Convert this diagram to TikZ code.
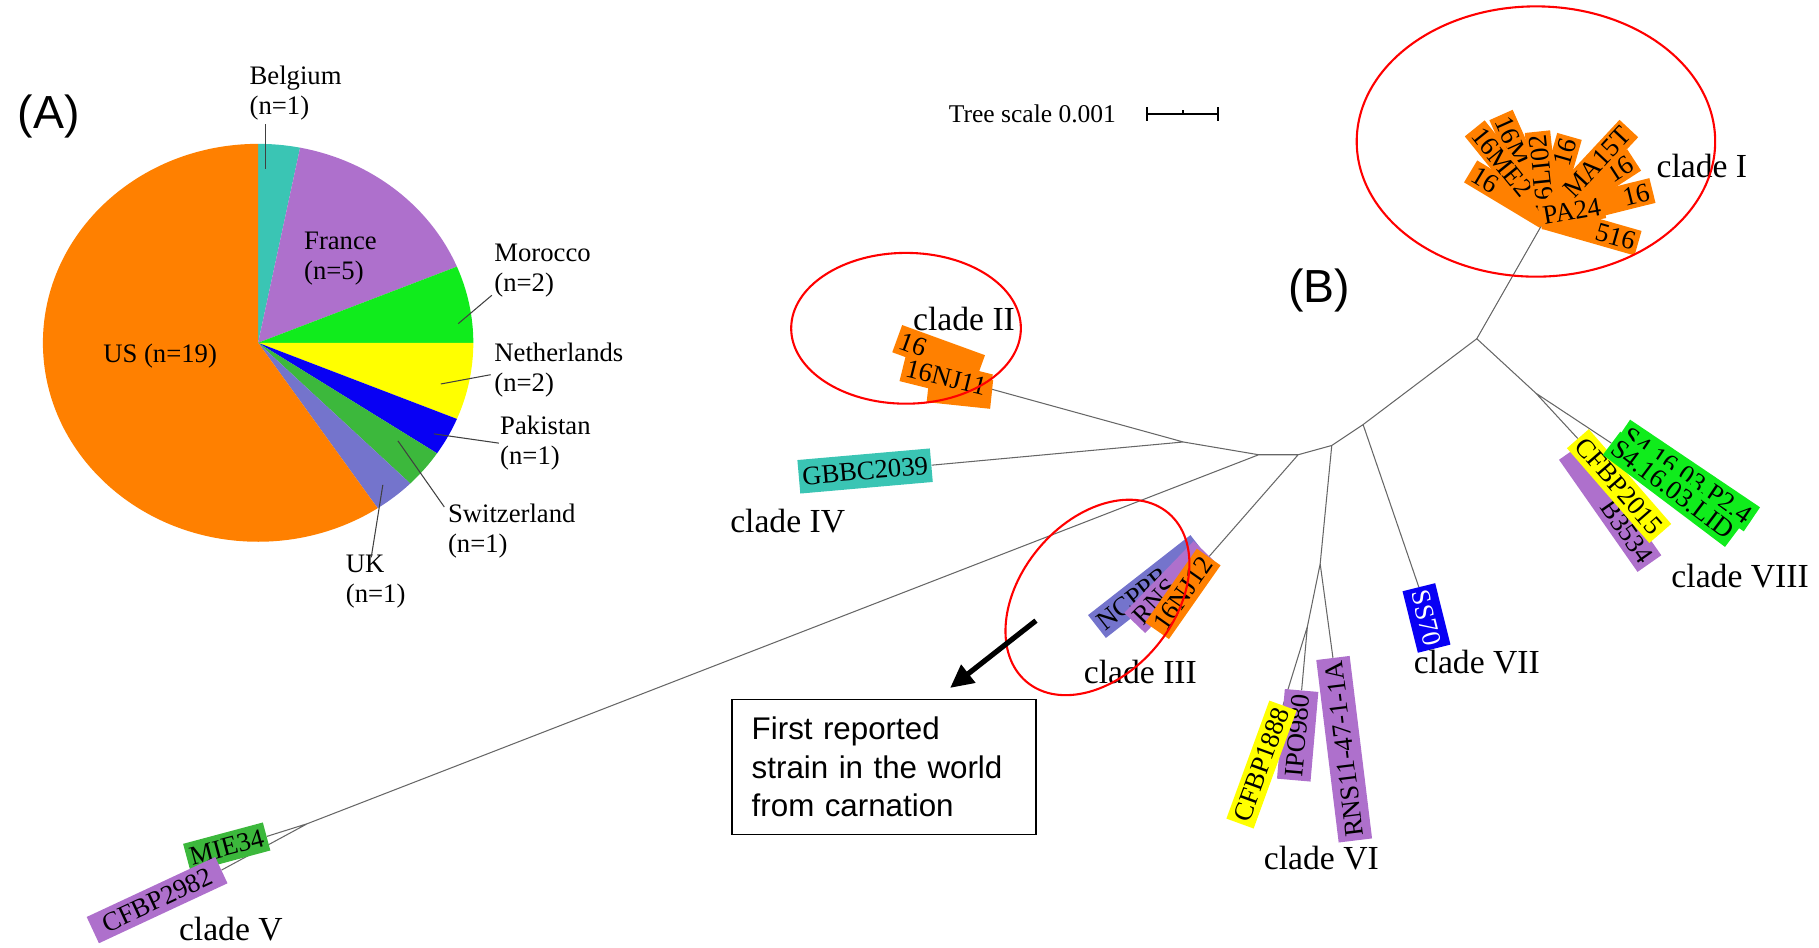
\documentclass[tikz,border=0pt]{standalone}
\usepackage{fontspec}
\setmainfont{Liberation Serif}
\newfontfamily\arialfont{Liberation Sans}
\usetikzlibrary{arrows.meta}

\definecolor{usorange}{RGB}{255,128,0}
\definecolor{belteal}{RGB}{58,197,180}
\definecolor{frpurple}{RGB}{174,112,204}
\definecolor{magreen}{RGB}{16,236,28}
\definecolor{nlyellow}{RGB}{255,255,0}
\definecolor{pkblue}{RGB}{8,0,244}
\definecolor{chgreen}{RGB}{60,184,60}
\definecolor{ukslate}{RGB}{116,116,204}

\tikzset{
  branch/.style={draw=black!60, line width=0.9pt},
  leaf/.style={fill=#1, font=\fontsize{23}{26}\selectfont, inner xsep=3pt,
    inner ysep=4pt, text height=16pt, text depth=1pt},
  tipleaf/.style={leaf=usorange, inner ysep=2.5pt}, % crowded clade I labels
  clade/.style={font=\fontsize{29}{32}\selectfont},
  country/.style={font=\fontsize{23}{26}\selectfont, align=left, anchor=west, inner xsep=0pt},
  leader/.style={draw=black!75, line width=0.9pt},
  ring/.style={draw=red, line width=1.8pt}
}

\begin{document}
\begin{tikzpicture}[x=1pt, y=1pt]
  \useasboundingbox (0,0) rectangle (1568,817);

  % ---- (A) isolates per country ----
  \node[font=\arialfont\fontsize{40}{44}\selectfont] (pa) at (42,717) {(A)};
  \coordinate (pie) at (222.5,521.5);
  \foreach \from/\to/\col in {78.75/90/belteal, 22.5/78.75/frpurple, 0/22.5/magreen,
      -22.5/0/nlyellow, -33.75/-22.5/pkblue, -45/-33.75/chgreen,
      -56.25/-45/ukslate, -270/-56.25/usorange}
    \fill[\col] (pie) -- ++(\from:185.5 and 171.5)
      arc[start angle=\from, end angle=\to, x radius=185.5, y radius=171.5] -- cycle;

  \node[country] (bel) at (215,737) {Belgium\\(n=1)};
  \node[country] (fra) at (262,594) {France\\(n=5)};
  \node[country] (mor) at (426,584) {Morocco\\(n=2)};
  \node[country] (net) at (426,498) {Netherlands\\(n=2)};
  \node[country] (pak) at (431,435) {Pakistan\\(n=1)};
  \node[country] (swi) at (386,359) {Switzerland\\(n=1)};
  \node[country] (uk) at (298,316) {UK\\(n=1)};
  \node[font=\fontsize{23}{26}\selectfont] (us) at (138,510) {US (n=19)};

  \coordinate (belin) at (229,671);
  \coordinate (morin) at (395,538);
  \coordinate (netin) at (380,486);
  \coordinate (pakin) at (374,443);
  \coordinate (swiin) at (343,437);
  \coordinate (ukin) at (330,399);
  \draw[leader] ([xshift=14pt]bel.south west) -- (belin);
  \draw[leader] ([xshift=-2pt,yshift=5pt]mor.south west) -- (morin);
  \draw[leader] ([xshift=-3pt,yshift=-4pt]net.west) -- (netin);
  \draw[leader] ([xshift=-1pt]pak.west) -- (pakin);
  \draw[leader] ([xshift=-3pt,yshift=-6pt]swi.north west) -- (swiin);
  \draw[leader] ([xshift=22pt,yshift=-6pt]uk.north west) -- (ukin);

  % ---- (B) unrooted tree ----
  \node[font=\arialfont\fontsize{40}{44}\selectfont] (pb) at (1137,567) {(B)};
  \node[font=\fontsize{22}{24}\selectfont] (scl) at (890,719) {Tree scale 0.001};
  \coordinate (sb1) at (989,719);
  \coordinate (sb2) at (1050,719);
  \coordinate (sbm) at (1019.5,719);
  \draw[line width=1.5pt] (sb1) -- (sb2) (sb1) ++(0,-6) -- ++(0,12)
    (sb2) ++(0,-6) -- ++(0,12) (sbm) -- ++(0,3);

  % inner nodes
  \coordinate (nA) at (1273,525);
  \coordinate (nB) at (1175,451);
  \coordinate (nC) at (1148,433);
  \coordinate (nD) at (1119,425);
  \coordinate (nE) at (1085,425);
  \coordinate (nF) at (1020,436);
  \coordinate (nG) at (265,107);
  \coordinate (nH) at (1138,331);
  \coordinate (nI) at (1127,277);
  \coordinate (nJ) at (1324,478);
  % tips
  \coordinate (t1) at (1333,630);
  \coordinate (t2) at (853,482);
  \coordinate (t2a) at (845,499);
  \coordinate (t2b) at (855,477);
  \coordinate (t3) at (1042,337);
  \coordinate (t3a) at (1034,346);
  \coordinate (t3b) at (1038,342);
  \coordinate (t4) at (803,416);
  \coordinate (t5a) at (230,96);
  \coordinate (t5b) at (191,67);
  \coordinate (t6a) at (1106,209);
  \coordinate (t6b) at (1122,222);
  \coordinate (t6c) at (1149,250);
  \coordinate (t7) at (1223,311);
  \coordinate (t8a) at (1360,439);
  \coordinate (t8b) at (1389,435);
  \coordinate (t8c) at (1354,428);
  \coordinate (t8d) at (1398,445);

  \draw[branch] (nA) -- (t1) (nA) -- (nJ) -- (t8a) (nJ) -- (t8b)
    (nA) -- (nB) -- (t7) (nB) -- (nC) -- (nH) -- (t6c) (nH) -- (nI) -- (t6b)
    (nI) -- (t6a) (nC) -- (nD) -- (t3) (nD) -- (nE) -- (nF) -- (t2)
    (nF) -- (t4) (nE) -- (nG) -- (t5a) (nG) -- (t5b);

  % clade I
  \foreach \ang/\boxw/\txt [count=\k] in {149/70/16, 114/90/16M, 129/92/16ME2}
    \node[tipleaf, anchor=east, rotate=\ang-180, text width=\boxw pt, align=left]
      (cIa\k) at (t1) {\txt};
  \foreach \ang/\boxw/\txt [count=\k] in {74/66/16, 33/84/16, 14/88/16, -16/76/516}
    \node[tipleaf, anchor=west, rotate=\ang, text width=\boxw pt, align=right]
      (cIb\k) at (t1) {\txt};
  \node[tipleaf, anchor=west, rotate=96] (li) at (t1) {16LI02};
  \node[tipleaf, anchor=west, rotate=47, text width=98pt, align=right] (ma) at (t1) {MA15T};
  \node[tipleaf, anchor=west, rotate=10] (pa24) at ([xshift=-6pt]t1) {PA24};
  \node[clade] (cl1) at (1467,674) {clade I};

  % clade II
  \node[leaf=usorange, anchor=east, rotate=-20, text width=70pt, align=left] (nj0) at (t2a) {16};
  \node[leaf=usorange, anchor=east, rotate=-6, minimum width=55pt] (nj1) at (t2b) {};
  \node[leaf=usorange, anchor=east, rotate=-14] (nj11) at (t2) {16NJ11};
  \node[clade] (cl2) at (831,542) {clade II};

  % clade III
  \node[leaf=ukslate, anchor=east, rotate=38, text width=106pt, align=left] (ncp) at (t3a) {NCPPB};
  \node[leaf=frpurple, anchor=east, rotate=46, text width=80pt, align=left] (rns) at (t3b) {RNS};
  \node[leaf=usorange, anchor=east, rotate=55] (nj12) at (t3) {16NJ12};
  \node[clade] (cl3) at (983,238) {clade III};

  % clade IV
  \node[leaf=belteal, anchor=east, rotate=5, inner ysep=6pt] (gbbc) at (t4) {GBBC2039};
  \node[clade] (cl4) at (679,368) {clade IV};

  % clade V
  \node[leaf=chgreen, anchor=east, rotate=15] (mie) at (t5a) {MIE34};
  \node[leaf=frpurple, anchor=east, rotate=25, inner xsep=10pt] (cf2982) at (t5b) {CFBP2982};
  \node[clade] (cl5) at (199,16) {clade V};

  % clade VI
  \node[leaf=frpurple, anchor=east, rotate=85, inner ysep=6pt] (ipo) at (t6b) {IPO980};
  \node[leaf=frpurple, anchor=east, rotate=97, inner ysep=6pt] (rns11) at (t6c) {RNS11-47-1-1A};
  \node[leaf=nlyellow, anchor=east, rotate=70] (cf1888) at (t6a) {CFBP1888};
  \node[clade] (cl6) at (1139,77) {clade VI};

  % clade VII
  \node[leaf=pkblue, text=white, anchor=west, rotate=-76, inner ysep=6pt] (ss) at (t7) {SS70};
  \node[clade] (cl7) at (1273,246) {clade VII};

  % clade VIII
  \node[leaf=frpurple, anchor=west, rotate=-55, text width=112pt, align=right] (b35) at (t8c) {B3534};
  \node[leaf=nlyellow, anchor=west, rotate=-49] (cf2015) at (t8a) {CFBP2015};
  \node[leaf=magreen, anchor=west, rotate=-34] (p24) at (t8d) {S4.16.03.P2.4};
  \node[leaf=magreen, anchor=west, rotate=-37] (lid) at (t8b) {S4.16.03.LID};
  \node[clade] (cl8) at (1500,320) {clade VIII};

  % highlighted clades
  \draw[ring] (1324,695) ellipse[x radius=154.5, y radius=116.5];
  \draw[ring] (781,534) ellipse[x radius=99, y radius=65];
  \draw[ring, rotate around={50:(946,302)}] (946,302) ellipse[x radius=95, y radius=66];

  % note on the carnation strain
  \node[draw, line width=1pt, font=\arialfont\fontsize{27}{33}\selectfont,
    text width=228pt, align=left, inner xsep=17pt, minimum height=116pt]
    (note) at (762,156) {First reported\\strain in the world\\from carnation};
  \coordinate (arrtail) at (893,282);
  \coordinate (arrtip) at (819,224);
  \draw[line width=4.5pt, -{Triangle[length=20pt, width=19pt]}] (arrtail) -- (arrtip);
\end{tikzpicture}
\end{document}
